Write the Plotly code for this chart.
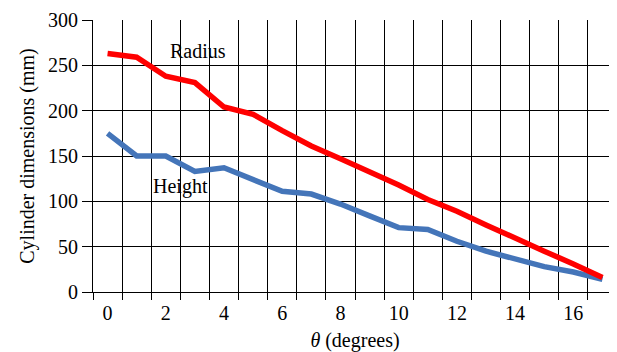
import plotly.graph_objects as go

theta = list(range(18))
radius = [263, 259, 238, 231, 204, 196, 178, 161, 147, 133, 118, 102, 89, 74, 59, 45, 31, 16]
height = [175, 150, 150, 133, 137, 124, 111, 108, 97, 84, 71, 69, 56, 45, 36, 28, 22, 14]
x_tick_vals = [0, 2, 4, 6, 8, 10, 12, 14, 16]
y_tick_vals = [0, 50, 100, 150, 200, 250, 300]

FONT = "Liberation Serif"
F = dict(family=FONT, size=20, color="black")

fig = go.Figure()
fig.add_trace(go.Scatter(x=theta, y=height, mode="lines",
                         line=dict(color="#4475B9", width=5.5), showlegend=False))
fig.add_trace(go.Scatter(x=theta, y=radius, mode="lines",
                         line=dict(color="#FF0000", width=5.5), showlegend=False))

fig.add_annotation(x=3.1, y=266, text="Radius", showarrow=False, font=F)
fig.add_annotation(x=2.5, y=116, text="Height", showarrow=False, font=F)

fig.update_layout(
    width=609, height=344,
    margin=dict(l=85, r=0, t=12, b=60),
    plot_bgcolor="white", paper_bgcolor="white",
    font=F,
    xaxis=dict(
        range=[-0.5, 17.5], tickvals=x_tick_vals, ticks="", showgrid=False,
        zeroline=False, showline=True, linecolor="black", linewidth=1,
        minor=dict(tick0=-0.5, dtick=1, showgrid=True, gridcolor="black",
                   gridwidth=1, ticks="outside", ticklen=7, tickcolor="black"),
        tickfont=F,
        title=dict(text="<i>θ</i> (degrees)", standoff=15, font=F),
        ticklabelstandoff=3,
    ),
    yaxis=dict(
        range=[0, 300], tickvals=y_tick_vals, showgrid=True, gridcolor="black",
        gridwidth=1, zeroline=False, showline=True, linecolor="black", linewidth=1,
        ticks="outside", ticklen=10, tickcolor="black", tickfont=F,
        title=dict(text="Cylinder dimensions (mm)", standoff=8, font=F),
    ),
)

fig.write_html("out.html")
